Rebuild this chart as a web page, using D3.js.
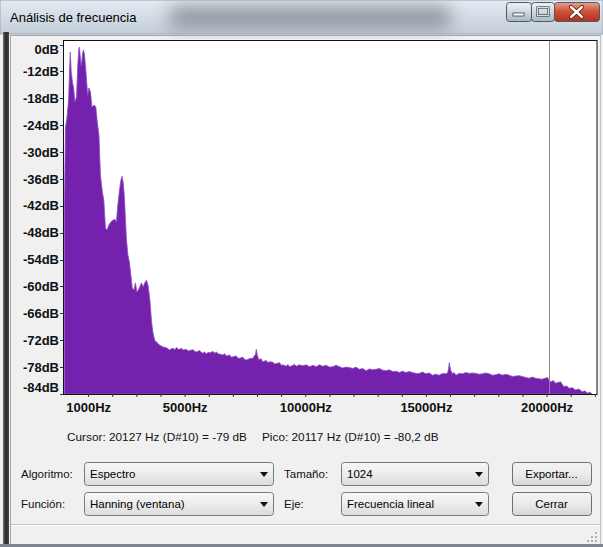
<!DOCTYPE html>
<html>
<head>
<meta charset="utf-8">
<script src="https://cdn.jsdelivr.net/npm/d3@7/dist/d3.min.js"></script>
<style>
  html, body { margin: 0; padding: 0; background: #f0f0f0; }
  svg { display: block; }
</style>
</head>
<body>
<svg id="chart" width="603" height="547"></svg>
<script>
// ---------------- DATA ----------------
const windowTitle = "Análisis de frecuencia";

// Spectrum, low-frequency part (Hz / dB)
const lowFreqHz = [
  20, 60, 120, 190, 230, 260, 300, 350, 400, 450,
  520, 570, 610, 640, 680, 720, 770, 810, 850, 910,
  980, 1030, 1100, 1160, 1250, 1320, 1380, 1450, 1510, 1590,
  1650, 1720, 1780, 1860, 1940, 2030, 2110, 2170, 2230, 2300,
  2360, 2410, 2460, 2500, 2540, 2590, 2650, 2710, 2770, 2830,
  2900, 2960, 3020, 3080, 3140, 3210, 3280, 3350, 3420, 3490,
  3560, 3630, 3690, 3760, 3870, 3970, 4110, 4250
];
const lowLevelDb = [
  -41.2, -24.6, -22.4, -18.4, -11.7, -7.7, -12.1, -14.4, -15.7, -18.8,
  -17.7, -10.6, -7.2, -6.6, -9.0, -10.8, -7.9, -7.2, -8.3, -12.1,
  -17.3, -15.7, -16.6, -20.0, -19.5, -20.0, -23.3, -26.2, -35.1, -38.9,
  -40.7, -47.0, -47.4, -46.3, -45.6, -45.2, -45.0, -45.6, -41.8, -38.5,
  -36.2, -35.4, -37.1, -39.8, -44.1, -49.6, -53.0, -54.5, -57.4, -60.3,
  -60.8, -59.2, -61.2, -60.8, -60.1, -59.2, -60.1, -59.2, -58.6, -59.9,
  -63.0, -67.9, -70.4, -72.0, -72.6, -73.1, -73.5, -73.7
];

// Spectrum, noise-floor part (Hz / dB)
const highFreqHz = [
  4380, 4450, 4520, 4590, 4660, 4730, 4800, 4870, 4930, 5070,
  5140, 5210, 5350, 5420, 5490, 5620, 5690, 5760, 5830, 5900,
  5970, 6040, 6180, 6250, 6320, 6390, 6450, 6590, 6660, 6730,
  6870, 6940, 7000, 7140, 7210, 7280, 7420, 7490, 7560, 7700,
  7830, 7940, 7970, 8010, 8080, 8160, 8240, 8380, 8450, 8520,
  8660, 8730, 8800, 8940, 9000, 9070, 9210, 9280, 9350, 9490,
  9550, 9620, 9760, 9900, 10040, 10180, 10320, 10450, 10590, 10730,
  10870, 11000, 11140, 11280, 11420, 11550, 11690, 11830, 11970, 12100,
  12240, 12380, 12520, 12660, 12790, 12930, 13070, 13210, 13350, 13480,
  13620, 13760, 13900, 14030, 14170, 14310, 14450, 14590, 14720, 14860,
  15000, 15140, 15270, 15410, 15550, 15690, 15830, 15900, 15940, 15970,
  16020, 16100, 16170, 16240, 16380, 16520, 16650, 16790, 16930, 17070,
  17210, 17340, 17480, 17620, 17760, 17900, 18030, 18170, 18310, 18450,
  18580, 18720, 18860, 19000, 19140, 19270, 19410, 19550, 19690, 19820,
  19930, 20030, 20100, 20170, 20280, 20380, 20480, 20590, 20660, 20720,
  20830, 20930, 21070, 21210, 21340, 21480, 21590, 21690, 21800, 21890
];
const highLevelDb = [
  -74.2, -73.9, -73.8, -74.1, -73.6, -74.0, -74.0, -73.8, -74.2, -74.0,
  -74.4, -74.3, -74.1, -74.5, -74.6, -74.3, -74.7, -74.9, -74.6, -75.1,
  -74.7, -74.8, -74.5, -74.9, -74.6, -75.0, -75.1, -75.3, -75.0, -75.5,
  -75.3, -75.8, -75.7, -75.5, -76.0, -76.0, -75.8, -76.3, -76.4, -76.1,
  -76.0, -75.1, -74.0, -75.3, -76.4, -76.1, -76.8, -76.5, -77.0, -76.8,
  -76.9, -77.3, -77.2, -77.0, -77.6, -77.5, -77.8, -77.4, -77.9, -77.6,
  -77.4, -77.8, -77.5, -77.7, -77.5, -77.9, -77.6, -77.9, -77.5, -77.8,
  -77.6, -78.0, -77.9, -77.6, -77.9, -78.2, -78.0, -78.1, -78.3, -78.0,
  -78.5, -78.3, -78.8, -78.4, -78.6, -78.5, -78.3, -78.7, -78.8, -78.6,
  -79.0, -78.9, -79.2, -78.9, -79.2, -79.0, -79.2, -79.4, -79.4, -79.1,
  -79.5, -79.3, -79.8, -79.6, -79.8, -79.4, -79.5, -79.3, -78.3, -77.0,
  -78.6, -79.5, -79.2, -79.8, -79.4, -79.5, -79.2, -79.4, -79.3, -79.4,
  -79.6, -79.5, -79.3, -79.5, -79.8, -79.7, -79.5, -79.8, -79.6, -79.8,
  -80.1, -80.0, -79.9, -80.1, -80.3, -80.5, -80.2, -80.5, -80.6, -80.7,
  -80.5, -80.3, -80.8, -81.3, -81.0, -81.6, -81.4, -81.3, -81.9, -82.4,
  -82.2, -82.7, -82.6, -83.1, -82.9, -83.5, -83.3, -83.8, -83.6, -84.0
];

// Axes
const yTickValues = [0, -12, -18, -24, -30, -36, -42, -48, -54, -60, -66, -72, -78, -84];
const xMinorTicks = [1000, 2000, 3000, 4000, 5000, 6000, 7000, 8000, 9000, 10000, 11000,
                     12000, 13000, 14000, 15000, 16000, 17000, 18000, 19000, 20000, 21000, 22000];
const xLabelTicks = [1000, 5000, 10000, 15000, 20000];
const freqMax = 22050;
const dbBottom = -84, dbTop = -5;

// Cursor / peak readout
const cursorHz = 20127, cursorNote = "D#10", cursorDb = "-79";
const peakHz = 20117, peakNote = "D#10", peakDb = "-80,2";

// Controls
const ctlLabelsLeft = ["Algoritmo:", "Función:"];
const ctlValuesLeft = ["Espectro", "Hanning (ventana)"];
const ctlLabelsMid = ["Tamaño:", "Eje:"];
const ctlValuesMid = ["1024", "Frecuencia lineal"];
const ctlButtons = ["Exportar...", "Cerrar"];

// ---------------- DRAW ----------------
const svg = d3.select("#chart");
const defs = svg.append("defs");
const UI = "'Liberation Sans', Arial, sans-serif";

function lg(id, stops, x2 = 0, y2 = 1) {
  const g = defs.append("linearGradient").attr("id", id)
    .attr("x1", 0).attr("y1", 0).attr("x2", x2).attr("y2", y2);
  stops.forEach(([o, c]) => g.append("stop").attr("offset", o).attr("stop-color", c));
}
lg("gTitle", [[0, "#e4eaf1"], [0.5, "#d3dce6"], [1, "#c3cdd8"]]);
lg("gBtn", [[0, "#eef2f6"], [0.5, "#cfd7e0"], [1, "#aab6c2"]]);
lg("gClose", [[0, "#e8a293"], [0.45, "#d1533b"], [1, "#b3301c"]]);
lg("gCombo", [[0, "#f7f7f7"], [0.5, "#ececec"], [1, "#dcdcdc"]]);
lg("gPush", [[0, "#f4f4f4"], [0.5, "#ebebeb"], [1, "#d6d6d6"]]);
lg("gFrameL", [[0, "#6c6c6c"], [0.5, "#262626"], [1, "#4a4a4a"]], 1, 0);
const blur = defs.append("filter").attr("id", "blur").attr("x", "-50%").attr("y", "-50%")
  .attr("width", "200%").attr("height", "200%");
blur.append("feGaussianBlur").attr("stdDeviation", 9);

// window background
svg.append("rect").attr("width", 603).attr("height", 547).attr("fill", "#f0f0f0");

// title bar
svg.append("rect").attr("x", 0).attr("y", 0).attr("width", 603).attr("height", 34).attr("fill", "url(#gTitle)");
svg.append("rect").attr("x", 170).attr("y", 6).attr("width", 280).attr("height", 22)
  .attr("fill", "#4d5259").attr("opacity", 0.5).attr("filter", "url(#blur)");
svg.append("rect").attr("x", 0).attr("y", 0).attr("width", 603).attr("height", 34)
  .attr("fill", "none").attr("stroke", "#9aa6b3").attr("stroke-width", 1);
svg.append("text").attr("x", 10).attr("y", 22).attr("font-family", UI).attr("font-size", 13)
  .attr("fill", "#000").text(windowTitle);

// caption buttons
function capBtn(x, w, fill) {
  svg.append("rect").attr("x", x + 0.5).attr("y", 2.5).attr("width", w).attr("height", 19)
    .attr("rx", 3).attr("fill", fill).attr("stroke", "#4f5964");
}
capBtn(506, 25, "url(#gBtn)");
capBtn(531, 23, "url(#gBtn)");
capBtn(554, 45, "url(#gClose)");
svg.append("rect").attr("x", 513).attr("y", 13).attr("width", 11).attr("height", 3)
  .attr("fill", "#fff").attr("stroke", "#39424b").attr("stroke-width", 0.8);
svg.append("rect").attr("x", 537.5).attr("y", 7.5).attr("width", 11).attr("height", 8)
  .attr("fill", "none").attr("stroke", "#39424b").attr("stroke-width", 2.2);
svg.append("rect").attr("x", 537.5).attr("y", 7.5).attr("width", 11).attr("height", 8)
  .attr("fill", "none").attr("stroke", "#fff").attr("stroke-width", 0.8);
svg.append("path").attr("d", "M571,7 L582,17 M582,7 L571,17")
  .attr("stroke", "#5a1a10").attr("stroke-width", 4.2).attr("stroke-linecap", "round");
svg.append("path").attr("d", "M571,7 L582,17 M582,7 L571,17")
  .attr("stroke", "#fff").attr("stroke-width", 2.4).attr("stroke-linecap", "round");

// window frame
svg.append("rect").attr("x", 3).attr("y", 32).attr("width", 6).attr("height", 515).attr("fill", "url(#gFrameL)");
svg.append("line").attr("x1", 10.5).attr("x2", 10.5).attr("y1", 35).attr("y2", 545).attr("stroke", "#a8a8a8");
svg.append("line").attr("x1", 10.5).attr("x2", 600).attr("y1", 35.5).attr("y2", 35.5).attr("stroke", "#a8a8a8");
svg.append("line").attr("x1", 600.5).attr("x2", 600.5).attr("y1", 34).attr("y2", 547).attr("stroke", "#b9c2cc");
svg.append("rect").attr("x", 0).attr("y", 544).attr("width", 603).attr("height", 3).attr("fill", "#7d8690");

// ---------------- PLOT ----------------
const L = 64, R = 596, T = 40, B = 394;
const x = d3.scaleLinear().domain([0, freqMax]).range([L, R]);
const y = d3.scaleLinear().domain([dbBottom, dbTop]).range([B, T]);

svg.append("rect").attr("x", L - 0.5).attr("y", T + 0.5).attr("width", R - L + 1.5).attr("height", B - T)
  .attr("fill", "#fff").attr("stroke", "#111").attr("stroke-width", 1);

const spectrum = d3.zip(lowFreqHz, lowLevelDb).concat(d3.zip(highFreqHz, highLevelDb));
const clip = defs.append("clipPath").attr("id", "plotClip");
clip.append("rect").attr("x", L).attr("y", T + 1).attr("width", R - L + 1).attr("height", B - T - 1);

const area = d3.area()
  .x(d => x(d[0]))
  .y0(y(dbBottom))
  .y1(d => y(d[1]));
svg.append("path").datum(spectrum).attr("d", area)
  .attr("clip-path", "url(#plotClip)")
  .attr("fill", "#7421ad").attr("stroke", "#8d52c2").attr("stroke-width", 0.8)
  .attr("stroke-linejoin", "round");

// cursor line
svg.append("line").attr("x1", Math.round(x(cursorHz)) - 0.5).attr("x2", Math.round(x(cursorHz)) - 0.5)
  .attr("y1", T + 1).attr("y2", B).attr("stroke", "#8a8a8a").attr("stroke-width", 1);

// y axis
const yAx = svg.append("g").attr("font-family", UI).attr("font-size", 13).attr("font-weight", "bold");
yTickValues.forEach(v => {
  const ly = Math.max(T + 9, Math.min(B - 7, y(v)));
  const ty = Math.max(T + 5, Math.min(B, y(v)));
  yAx.append("line").attr("x1", L - 4).attr("x2", L - 1).attr("y1", Math.round(ty) + 0.5).attr("y2", Math.round(ty) + 0.5)
    .attr("stroke", "#333");
  yAx.append("text").attr("x", L - 5).attr("y", ly).attr("dy", "0.36em").attr("text-anchor", "end")
    .attr("fill", "#111").text(`${v}dB`);
});

// x axis
const xAxis = d3.axisBottom(x).tickValues(xMinorTicks).tickSize(3).tickPadding(6)
  .tickFormat(d => xLabelTicks.includes(d) ? `${d}Hz` : "");
const xg = svg.append("g").attr("transform", `translate(0,${B})`).call(xAxis);
xg.select(".domain").remove();
xg.selectAll("line").attr("stroke", "#333");
xg.selectAll("text").attr("font-family", UI).attr("font-size", 13).attr("font-weight", "bold")
  .attr("fill", "#111");

// readout
svg.append("text").attr("x", 67).attr("y", 441).attr("font-family", UI).attr("font-size", 11.8).attr("fill", "#111")
  .text(`Cursor: ${cursorHz} Hz (${cursorNote}) = ${cursorDb} dB`);
svg.append("text").attr("x", 262).attr("y", 441).attr("font-family", UI).attr("font-size", 11.8).attr("fill", "#111")
  .text(`Pico: ${peakHz} Hz (${peakNote}) = ${peakDb} dB`);

// ---------------- CONTROLS ----------------
const rowsY = [462, 492];
const CF = 11.5;
function combo(x0, x1, yy, text) {
  svg.append("rect").attr("x", x0 + 0.5).attr("y", yy + 0.5).attr("width", x1 - x0).attr("height", 23)
    .attr("rx", 3).attr("fill", "url(#gCombo)").attr("stroke", "#7a7a7a");
  svg.append("text").attr("x", x0 + 6).attr("y", yy + 16).attr("font-family", UI).attr("font-size", CF)
    .attr("fill", "#000").text(text);
  const ax = x1 - 9;
  svg.append("path").attr("d", `M${ax - 4},${yy + 10} L${ax + 4},${yy + 10} L${ax},${yy + 15} Z`).attr("fill", "#111");
}
function push(x0, x1, yy, text) {
  svg.append("rect").attr("x", x0 + 0.5).attr("y", yy + 0.5).attr("width", x1 - x0).attr("height", 23)
    .attr("rx", 3).attr("fill", "url(#gPush)").attr("stroke", "#707070");
  svg.append("text").attr("x", (x0 + x1) / 2).attr("y", yy + 16).attr("text-anchor", "middle")
    .attr("font-family", UI).attr("font-size", CF).attr("fill", "#000").text(text);
}
rowsY.forEach((yy, i) => {
  svg.append("text").attr("x", 21).attr("y", yy + 16).attr("font-family", UI).attr("font-size", CF)
    .attr("fill", "#111").text(ctlLabelsLeft[i]);
  combo(84, 273, yy, ctlValuesLeft[i]);
  svg.append("text").attr("x", 284).attr("y", yy + 16).attr("font-family", UI).attr("font-size", CF)
    .attr("fill", "#111").text(ctlLabelsMid[i]);
  combo(341, 488, yy, ctlValuesMid[i]);
  push(512, 591, yy, ctlButtons[i]);
});

// status bar
svg.append("line").attr("x1", 11).attr("x2", 600).attr("y1", 524.5).attr("y2", 524.5).attr("stroke", "#c2c2c2");
svg.append("line").attr("x1", 11).attr("x2", 600).attr("y1", 525.5).attr("y2", 525.5).attr("stroke", "#fff");
[[595, 540], [591, 540], [587, 540], [595, 536], [591, 536], [595, 532]].forEach(([gx, gy]) => {
  svg.append("rect").attr("x", gx).attr("y", gy).attr("width", 2).attr("height", 2).attr("fill", "#b0b0b0");
});
</script>
</body>
</html>
